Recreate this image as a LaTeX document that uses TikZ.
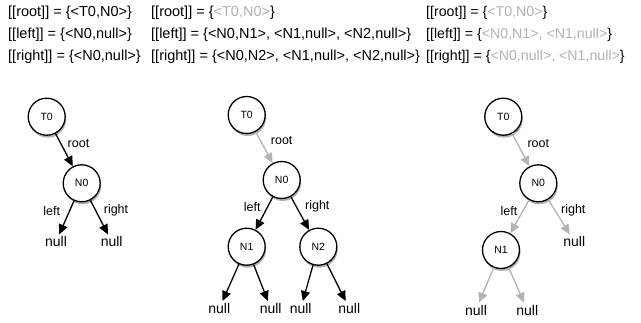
\documentclass[tikz,border=0pt]{standalone}
\usepackage{fontspec}
\setmainfont{Liberation Sans}
\usetikzlibrary{arrows.meta,shadows}
\definecolor{lgray}{HTML}{B2B2B2}
\definecolor{agray}{HTML}{B4B4B4}
\tikzset{
  treenode/.style={circle,draw=black,fill=white,line width=1.3pt,minimum size=37pt,inner sep=0pt,
    font=\fontsize{10.5}{12}\selectfont,
    drop shadow={shadow xshift=1pt,shadow yshift=-2.5pt,opacity=0.3,fill=black}},
  nulltxt/.style={inner sep=1pt,font=\fontsize{14}{16}\selectfont},
  lbl/.style={inner sep=0pt,font=\fontsize{12.5}{14}\selectfont},
  hdr/.style={anchor=west,inner sep=0pt,font=\fontsize{14.5}{16}\selectfont},
  hdrb/.style={anchor=west,inner sep=0pt,font=\fontsize{14.2}{16}\selectfont},
  blk/.style={draw=black,line width=1.3pt,-{Triangle[length=10pt,width=9pt]}},
  gry/.style={draw=agray,line width=1.3pt,-{Triangle[length=10pt,width=9pt]}},
}
\newcommand{\gt}[1]{\textcolor{lgray}{#1}}
\begin{document}
\begin{tikzpicture}[x=1pt,y=-1pt]
\useasboundingbox (0,0) rectangle (641,322);
% header
\node[hdr] (h11) at (8,13) {[[root]] = \{<T0,N0>\}};
\node[hdr] (h12) at (8,35) {[[left]] = \{<N0,null>\}};
\node[hdr] (h13) at (8,57) {[[right]] = \{<N0,null>\}};
\node[hdr] (h21) at (151,13) {[[root]] = \{\gt{<T0,N0>}\}};
\node[hdr] (h22) at (151,35) {[[left]] = \{<N0,N1>, <N1,null>, <N2,null>\}};
\node[hdr] (h23) at (151,57) {[[right]] = \{<N0,N2>, <N1,null>, <N2,null>\}};
\node[hdrb] (h31) at (426,13) {[[root]] = \{\gt{<T0,N0>}\}};
\node[hdrb] (h32) at (426,35) {[[left]] = \{\gt{<N0,N1>, <N1,null>}\}};
\node[hdrb] (h33) at (426,57) {[[right]] = \{\gt{<N0,null>, <N1,null>}\}};

% tree 1
\node[treenode] (aT0) at (46.7,116.7) {T0};
\node[treenode] (aN0) at (81.7,183.3) {N0};
\node[nulltxt] (aL) at (56,241.7) {null};
\node[nulltxt] (aR) at (111.7,241.7) {null};
\draw[blk] (aT0) -- (aN0);
\draw[blk,shorten >=1pt] (aN0) -- (aL);
\draw[blk,shorten >=1pt] (aN0) -- (aR);
\node[lbl] (ar) at (78.5,143.3) {root};
\node[lbl] (al) at (51.7,210.7) {left};
\node[lbl] (arr) at (116,210.7) {right};

% tree 2
\node[treenode] (bT0) at (246.7,115) {T0};
\node[treenode] (bN0) at (281.7,180) {N0};
\node[treenode] (bN1) at (246.7,246.7) {N1};
\node[treenode] (bN2) at (318.3,246.7) {N2};
\node[nulltxt] (b1) at (219.3,308.3) {null};
\node[nulltxt] (b2) at (270.7,308.3) {null};
\node[nulltxt] (b3) at (300.7,308.3) {null};
\node[nulltxt] (b4) at (349.3,308.3) {null};
\draw[gry] (bT0) -- (bN0);
\draw[blk] (bN0) -- (bN1);
\draw[blk] (bN0) -- (bN2);
\draw[blk,shorten >=1pt] (bN1) -- (b1);
\draw[blk,shorten >=1pt] (bN1) -- (b2);
\draw[blk,shorten >=1pt] (bN2) -- (b3);
\draw[blk,shorten >=1pt] (bN2) -- (b4);
\node[lbl] (br) at (281.7,140.7) {root};
\node[lbl] (bl) at (252.3,206.7) {left};
\node[lbl] (brr) at (317.3,206.7) {right};

% tree 3
\node[treenode] (cT0) at (503.3,116.7) {T0};
\node[treenode] (cN0) at (538.3,183.3) {N0};
\node[treenode] (cN1) at (501,250) {N1};
\node[nulltxt] (cR) at (574.3,241.7) {null};
\node[nulltxt] (c1) at (476,310) {null};
\node[nulltxt] (c2) at (527.3,310) {null};
\draw[gry] (cT0) -- (cN0);
\draw[gry] (cN0) -- (cN1);
\draw[gry,shorten >=1pt] (cN0) -- (cR);
\draw[gry,shorten >=1pt] (cN1) -- (c1);
\draw[gry,shorten >=1pt] (cN1) -- (c2);
\node[lbl] (cr) at (538.3,144) {root};
\node[lbl] (cl) at (509,210.7) {left};
\node[lbl] (crr) at (573.3,210.7) {right};
\end{tikzpicture}
\end{document}
